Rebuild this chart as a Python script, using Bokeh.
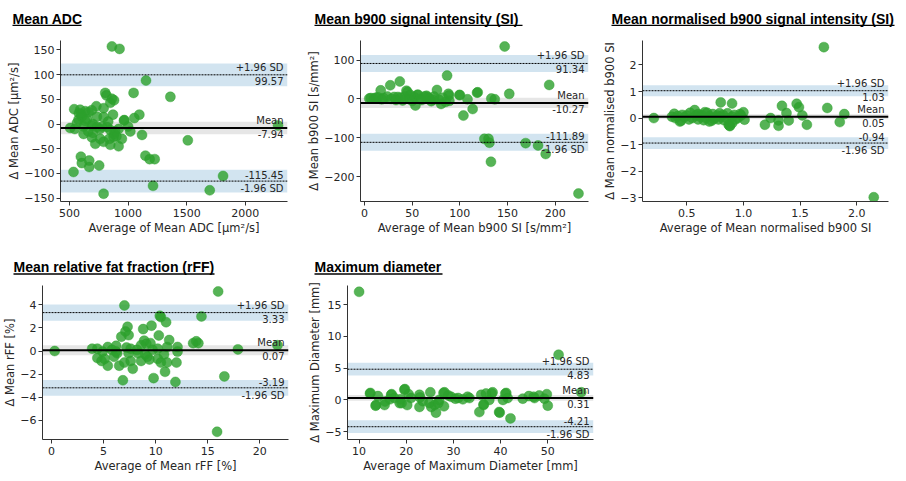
from bokeh.plotting import figure
from bokeh.layouts import row, column
from bokeh.models import Range1d, FixedTicker, BoxAnnotation, Span, Label
from bokeh.core.properties import value
from bokeh.embed import file_html
from bokeh.resources import INLINE

# ---------------- data ----------------
adc_avg = [862, 927, 1153, 1361, 1047, 805, 862, 848, 540, 591, 634, 663, 729, 791, 605, 577, 734, 791, 871,
           1096, 1053, 968, 506, 563, 634, 691, 734, 777, 820, 848, 890, 919, 1019, 1119, 620, 691, 762, 720,
           791, 848, 876, 947, 919, 1148, 1184, 1227, 597, 605, 668, 668, 753, 534, 1213, 791, 1697, 1811,
           2280, 1510, 965, 600, 650, 700, 620, 760, 830, 880, 900, 840, 700, 660, 580, 690, 815, 880, 1000, 545]
adc_diff = [157, 152, 88, 55, 63, 63, 51, 43, 30, 29, 26, 24, 36, 32, 15, 9, 15, 14, 19,
            19, 12, 8, -8, 2, 6, -3, -6, -5, -6, -12, -15, -10, -15, -22, -20, -27, -30, -40,
            -36, -42, -26, -30, -45, -64, -71, -71, -66, -79, -74, -87, -84, -97, -125, -141, -134, -105,
            -3, -33, 7, 20, 10, 0, -5, -10, 5, -20, -25, -30, -18, -15, 22, 28, 58, 48, -5, -10]
adc_lines = [99.57, -7.94, -115.45]        # upper LoA, mean, lower LoA
adc_ci = [23.0, 12.7, 23.0]                # half-width of CI bands

b900_avg = [147, 193.7, 86.6, 37, 27, 17, 44, 76, 118.7, 151.8, 99.5, 88, 108, 133, 136.6, 73, 63, 52, 56,
            35, 42, 24, 14, 5, 10, 18, 53.4, 80.3, 89, 103.7, 113.4, 125.7, 130, 131, 132.6, 169, 182, 190,
            224.4, 6.6, 11.8, 31, 45, 55.5, 66, 88.6, 100, 118, 20, 28, 33, 38, 47, 50, 58, 60, 68, 70, 78,
            82, 85, 40, 65, 72, 48]
b900_diff = [135, 36, 60, 45, 35, 22, 21, 23, 17, 13, 10, 13, -1, 1, -1, 6, 6, 5, 11,
             5, 6, 6, 4, 1, 1, -1, -17, -13, -5, -43, -26, -103, -103, -113, -162, -114, -120, -142,
             -244, 2, 3, 5, 18, 10, 5, 9, 10, 16, 2, 0, -3, 3, 0, -5, 0, -3, 1, -6, -2,
             3, -8, -4, 8, -2, 10]
b900_lines = [91.34, -10.27, -111.89]
b900_ci = [22.0, 13.0, 22.0]

norm_avg = [0.21, 1.34, 1.47, 1.49, 1.74, 1.89, 1.85, 1.56, 1.52, 1.38, 1.40, 1.31, 1.31, 1.19, 1.24, 0.90,
            0.80, 0.88, 0.90, 1.71, 2.15, 0.39, 0.57, 0.44, 0.70, 1.00, 1.01, 0.37, 0.42, 0.45, 0.48, 0.50,
            0.52, 0.55, 0.58, 0.60, 0.62, 0.63, 0.65, 0.67, 0.68, 0.70, 0.72, 0.73, 0.75, 0.77, 0.78, 0.80,
            0.82, 0.83, 0.85, 0.86, 0.87, 0.88, 0.90, 0.92, 0.93, 0.95, 0.97, 0.98, 0.40, 0.46, 0.53, 0.60,
            0.66, 0.74, 0.79]
norm_diff = [0.0, 0.46, 0.54, 0.41, 0.38, 0.15, -0.15, -0.25, 0.10, 0.19, -0.09, -0.09, -0.29, -0.25, 0.0, 0.55,
             0.59, -0.29, -0.19, 2.67, -2.98, 0.16, 0.30, -0.13, -0.13, 0.22, -0.06, 0.05, 0.08, -0.10, 0.03, 0.10,
             -0.05, 0.0, 0.10, -0.05, 0.05, 0.12, -0.08, 0.0, 0.20, 0.08, -0.10, 0.15, 0.02, 0.10, -0.05, 0.05,
             0.12, -0.08, 0.0, 0.18, -0.25, -0.30, 0.05, 0.12, -0.05, 0.0, 0.15, 0.10, 0.0, 0.12, 0.20, 0.15,
             0.22, -0.03, 0.18]
norm_lines = [1.03, 0.05, -0.94]
norm_ci = [0.21, 0.09, 0.22]

rff_avg = [0.3, 16.0, 7.0, 10.4, 10.5, 14.4, 11.0, 7.3, 9.6, 8.8, 7.1, 7.4, 6.7, 10.3, 11.3, 8.9, 9.5, 9.1,
           14.1, 13.6, 13.9, 21.7, 17.9, 12.1, 12.1, 11.1, 3.9, 4.4, 5.4, 6.2, 4.9, 6.2, 7.6, 8.2, 9.7, 10.2,
           4.4, 5.1, 4.8, 5.4, 6.5, 7.0, 7.6, 7.8, 8.6, 9.4, 10.2, 10.5, 11.1, 10.9, 12.0, 16.6, 6.85, 9.8,
           11.9, 15.9, 8.3, 9.0, 6.3, 7.4, 5.8, 8.6, 9.2, 10.8, 6.0, 7.2]
rff_diff = [0.0, 5.16, 3.95, 3.05, 2.95, 3.0, 2.5, 2.1, 2.2, 1.9, 1.7, 1.38, 1.24, 1.35, 0.95, 0.9, 0.68, 0.62,
            0.68, 0.68, 0.84, 0.5, 0.14, 0.35, -0.05, 0.35, 0.2, 0.2, 0.35, 0.45, -0.05, -0.05, 0.2, 0.1, 0.1, 0.2,
            -0.6, -0.68, -0.86, -1.27, -1.27, -1.0, -0.86, -1.54, -0.86, -0.73, -0.68, -1.0, -1.0, -1.8, -1.0,
            -2.2, -2.54, -2.35, -2.68, -7.0, -0.2, -0.3, -0.2, -0.2, 0.1, 0.5, -0.5, -0.3, -0.5, 0.3]
rff_lines = [3.33, 0.07, -3.19]
rff_ci = [0.70, 0.44, 0.68]

diam_avg = [10, 52.3, 57.1, 19.7, 12.3, 12.4, 13.6, 14.0, 15.5, 16.8, 16.5, 19.6, 20.5, 18.8, 18.6, 20.2, 22.8,
            22.8, 25.1, 24.9, 26.3, 26.0, 28.1, 28.0, 29.5, 32.0, 33.4, 35.9, 36.4, 35.5, 38.3, 37.6, 39.8, 41.2,
            41.5, 42.1, 44.7, 47.2, 48.2, 50.0, 49.3, 13.5, 15.4, 16.9, 19.0, 22.9, 25.3, 26.8, 27.9, 28.9, 30.4,
            33.0, 36.4, 36.9, 38.1, 39.7, 41.0, 47.0, 49.8, 21.0, 23.5, 17.5, 27.0, 31.0, 40.5, 46.0]
diam_diff = [17, 7.1, 1.2, 1.7, 1.0, 1.1, -0.8, 0.6, -0.25, 0.8, 0.1, 1.6, 0.9, 0.1, -0.5, -0.8, 0.8,
             -1.1, 1.2, -0.5, -2.0, -0.8, 1.2, -1.0, 0.5, 0.1, 0.3, 0.8, -0.8, -1.9, 1.2, 0.0, -2.0, 1.1,
             0.3, -2.9, 0.2, 0.3, 0.7, -0.9, 0.2, -0.9, -0.8, 0.9, -0.5, 0.4, -1.1, -0.5, 1.1, 0.7, 0.2,
             0.5, -0.7, 1.0, 1.0, -1.9, 1.0, 0.5, 0.9, 0.3, -0.2, 0.3, 0.0, 0.3, 0.0, 0.6]
diam_lines = [4.83, 0.31, -4.21]
diam_ci = [1.0, 0.45, 1.0]

adc_xticks = [500, 1000, 1500, 2000]
adc_yticks = [-150, -100, -50, 0, 50, 100, 150]
b900_xticks = [0, 50, 100, 150, 200]
b900_yticks = [-200, -100, 0, 100]
norm_xticks = [0.5, 1.0, 1.5, 2.0]
norm_xtick_labels = ["0.5", "1.0", "1.5", "2.0"]
norm_yticks = [-3, -2, -1, 0, 1, 2]
rff_xticks = [0, 5, 10, 15, 20]
rff_yticks = [-6, -4, -2, 0, 2, 4]
diam_xticks = [10, 20, 30, 40, 50]
diam_yticks = [-5, 0, 5, 10, 15]

titles = ["Mean ADC", "Mean b900 signal intensity (SI)", "Mean normalised b900 signal intensity (SI)",
          "Mean relative fat fraction (rFF)", "Maximum diameter"]
line_labels = ["+1.96 SD", "Mean", "-1.96 SD"]

AX = "#333333"
TXT = "#262626"


def fmt(v):
    return str(v).replace("-", "\u2212")


def title_fig(text, width, height, tx, baseline, ulen, uy):
    t = figure(width=width, height=height, x_range=Range1d(0, width), y_range=Range1d(height, 0),
               min_border=0, x_axis_location=None, y_axis_location=None, frame_align=False,
               output_backend="svg", toolbar_location=None)
    t.outline_line_color = None
    t.xgrid.visible = False
    t.ygrid.visible = False
    t.text(x=[tx], y=[baseline], text=[text], text_font=value("Liberation Sans"), text_font_size="14px",
           text_font_style="bold", text_color="black", text_baseline="alphabetic", text_align="left")
    t.segment(x0=[tx], y0=[uy], x1=[tx + ulen], y1=[uy], line_color="black", line_width=1.3)
    return t


def panel(xs, ys, xlab, ylab, xr, yr, xt, yt, lines, ci, borders, frame, xt_labels=None):
    bl, br, bt, bb = borders
    fw, fh = frame
    p = figure(frame_width=fw, frame_height=fh, min_border_left=bl, min_border_right=br,
               min_border_top=bt, min_border_bottom=bb, x_range=Range1d(*xr), y_range=Range1d(*yr),
               frame_align=False, output_backend="svg", toolbar_location=None)
    p.outline_line_color = None
    p.xgrid.visible = False
    p.ygrid.visible = False

    up, mn, lo = lines
    cu, cm, cl = ci
    p.add_layout(BoxAnnotation(bottom=up - cu, top=up + cu, fill_color="#1f77b4", fill_alpha=0.2,
                               line_alpha=0, level="underlay"))
    p.add_layout(BoxAnnotation(bottom=mn - cm, top=mn + cm, fill_color="gray", fill_alpha=0.2,
                               line_alpha=0, level="underlay"))
    p.add_layout(BoxAnnotation(bottom=lo - cl, top=lo + cl, fill_color="#1f77b4", fill_alpha=0.2,
                               line_alpha=0, level="underlay"))

    p.scatter(xs, ys, size=10, fill_color="#2ca02c", fill_alpha=0.8, line_color="#2ca02c",
              line_alpha=0.8, line_width=0.5)

    p.add_layout(Span(location=mn, dimension="width", line_color="black", line_width=2))
    p.add_layout(Span(location=up, dimension="width", line_color="black", line_width=1, line_dash="2 1"))
    p.add_layout(Span(location=lo, dimension="width", line_color="black", line_width=1, line_dash="2 1"))

    xmax = xr[1]
    texts = [(line_labels[0], f"{up:.2f}", up), (line_labels[1], f"{mn:.2f}", mn),
             (f"{lo:.2f}", line_labels[2], lo)]
    for above, below, yv in texts:
        p.add_layout(Label(x=xmax, y=yv, x_offset=-4, y_offset=2, text=above, text_align="right",
                           text_baseline="bottom", text_font="DejaVu Sans", text_font_size="10px",
                           text_color=TXT))
        p.add_layout(Label(x=xmax, y=yv, x_offset=-4, y_offset=-2, text=below, text_align="right",
                           text_baseline="top", text_font="DejaVu Sans", text_font_size="10px",
                           text_color=TXT))

    for ax, ticks, lab in ((p.xaxis[0], xt, xlab), (p.yaxis[0], yt, ylab)):
        ax.ticker = FixedTicker(ticks=ticks)
        ax.minor_tick_line_color = None
        ax.major_tick_in = 0
        ax.major_tick_out = 4
        ax.axis_line_color = AX
        ax.axis_line_width = 1
        ax.major_tick_line_color = AX
        ax.major_label_text_font = "DejaVu Sans"
        ax.major_label_text_font_size = "11px"
        ax.major_label_text_color = TXT
        ax.major_label_standoff = 2
        ax.axis_label = lab
        ax.axis_label_text_font = "DejaVu Sans"
        ax.axis_label_text_font_size = "11.5px"
        ax.axis_label_text_font_style = "normal"
        ax.axis_label_text_color = TXT
        ax.axis_label_standoff = 1
    p.xaxis[0].major_label_standoff = 3
    p.yaxis[0].axis_label_standoff = 0
    p.xaxis[0].major_label_overrides = {t: (xt_labels[i] if xt_labels else fmt(t)) for i, t in enumerate(xt)}
    p.yaxis[0].major_label_overrides = {t: fmt(t) for t in yt}
    return p


p1 = panel(adc_avg, adc_diff, "Average of Mean ADC [\u03bcm\u00b2/s]", "\u0394 Mean ADC [\u03bcm\u00b2/s]",
           (423, 2361), (-156.7, 169), adc_xticks, adc_yticks, adc_lines, adc_ci,
           (60, 10, 6, 35), (227, 161))
p2 = panel(b900_avg, b900_diff, "Average of Mean b900 SI [s/mm\u00b2]", "\u0394 Mean b900 SI [s/mm\u00b2]",
           (-4.2, 234.9), (-264.4, 150.5), b900_xticks, b900_yticks, b900_lines, b900_ci,
           (63, 9, 6, 35), (228, 161))
p3 = panel(norm_avg, norm_diff, "Average of Mean normalised b900 SI", "\u0394 Mean normalised b900 SI",
           (0.11, 2.28), (-3.14, 2.92), norm_xticks, norm_yticks, norm_lines, norm_ci,
           (45, 9, 6, 35), (246, 161), norm_xtick_labels)
p4 = panel(rff_avg, rff_diff, "Average of Mean rFF [%]", "\u0394 Mean rFF [%]",
           (-0.87, 22.76), (-7.67, 5.68), rff_xticks, rff_yticks, rff_lines, rff_ci,
           (42, 17, 6, 35), (246, 154))
p5 = panel(diam_avg, diam_diff, "Average of Maximum Diameter [mm]", "\u0394 Maximum Diameter [mm]",
           (7.54, 59.7), (-6.22, 17.99), diam_xticks, diam_yticks, diam_lines, diam_ci,
           (38, 8, 6, 35), (246, 154))

t1 = title_fig(titles[0], 297, 34, 12, 18, 69, 24.8)
t2 = title_fig(titles[1], 300, 34, 17, 18, 208, 24.8)
t3 = title_fig(titles[2], 300, 34, 14, 18, 283, 24.8)
t4 = title_fig(titles[3], 305, 42, 13, 29.7, 201, 36.5)
t5 = title_fig(titles[4], 292, 42, 9, 29.7, 128, 36.5)

layout = column(
    row(column(t1, p1, spacing=0), column(t2, p2, spacing=0), column(t3, p3, spacing=0), spacing=0),
    row(column(t4, p4, spacing=0), column(t5, p5, spacing=0), spacing=0),
    spacing=0)
open("out.html", "w").write(file_html(layout, INLINE))
